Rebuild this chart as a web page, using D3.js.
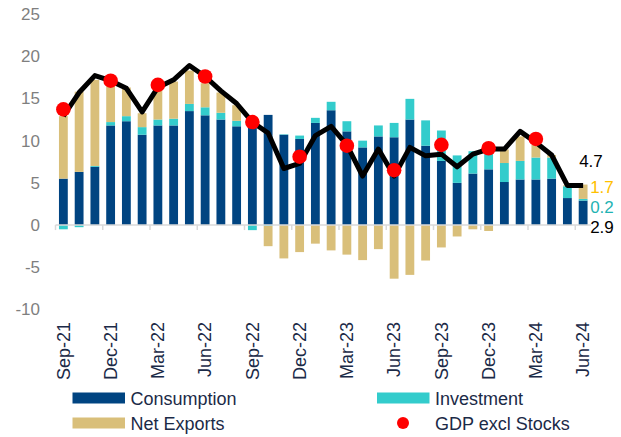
<!DOCTYPE html>
<html>
<head>
<meta charset="utf-8">
<script src="https://cdn.jsdelivr.net/npm/d3@7"></script>
<style>
  body { margin: 0; background: #fff; }
  text { font-family: "Liberation Sans", Arial, sans-serif; }
  .axis-y text { fill: #7f7f7f; font-size: 17px; }
  .axis-x text { fill: #1b2a47; font-size: 18px; }
  .legend text { fill: #1b2a47; font-size: 18px; }
</style>
</head>
<body>
<svg id="chart" width="621" height="437"></svg>
<script>
var months = ['Sep-21','Oct-21','Nov-21','Dec-21','Jan-22','Feb-22','Mar-22','Apr-22','May-22','Jun-22',
              'Jul-22','Aug-22','Sep-22','Oct-22','Nov-22','Dec-22','Jan-23','Feb-23','Mar-23','Apr-23',
              'May-23','Jun-23','Jul-23','Aug-23','Sep-23','Oct-23','Nov-23','Dec-23','Jan-24','Feb-24',
              'Mar-24','Apr-24','May-24','Jun-24'];

var tickMonths = ['Sep-21','Dec-21','Mar-22','Jun-22','Sep-22','Dec-22','Mar-23','Jun-23','Sep-23','Dec-23','Mar-24','Jun-24'];
var yTicks = [-10, -5, 0, 5, 10, 15, 20, 25];

var consumption = [5.5, 6.3, 6.9, 11.8, 12.3, 10.7, 11.8, 11.8, 13.5, 13.0, 12.5, 11.7, 11.8, 13.05, 10.7, 10.2, 12.1,
                   13.6, 11.1, 9.2, 10.5, 10.4, 12.5, 9.4, 7.6, 5.0, 6.1, 6.6, 5.1, 5.4, 5.4, 5.5, 3.2, 2.9];
var investment  = [-0.5, -0.25, 0.1, 0.4, 0.6, 0.9, 0.7, 0.8, 0.85, 0.95, 0.8, 0.65, -0.6, -0.1, 0.05, 0.4, 0.6,
                   1.0, 1.2, 0.8, 1.3, 1.7, 2.45, 3.0, 3.6, 3.25, 2.65, 2.0, 2.25, 2.2, 2.6, 2.5, 1.4, 0.2];
var netExports  = [7.4, 9.5, 10.2, 4.4, 3.4, 1.65, 3.7, 4.4, 3.95, 2.85, 2.4, 1.85, 0, -2.4, -3.95, -3.2, -2.2,
                   -3.0, -3.5, -4.15, -2.85, -6.35, -5.9, -4.2, -2.65, -1.35, -0.5, -0.7, 1.6, 2.9, 1.5, 0.3, 0.1, 1.7];

// black line (monthly)
var gdpLine = [12.9, 15.7, 17.7, 17.1, 16.2, 13.4, 16.3, 17.2, 18.9, 17.6, 15.9, 14.4, 12.2, 10.9, 6.7, 7.3, 10.6,
               11.7, 9.5, 5.8, 9.0, 5.8, 9.2, 8.2, 8.4, 6.9, 8.4, 9.0, 9.0, 11.1, 9.8, 8.3, 4.7, 4.7];

// red dots (quarterly)
var gdpExclStocksMonths = ['Sep-21','Dec-21','Mar-22','Jun-22','Sep-22','Dec-22','Mar-23','Jun-23','Sep-23','Dec-23','Mar-24'];
var gdpExclStocks = [13.7, 17.1, 16.6, 17.6, 12.2, 8.1, 9.4, 6.5, 9.5, 9.1, 10.2];

var endLabels = [{text:'4.7', value:4.7, color:'#000000'},
                 {text:'1.7', value:1.7, color:'#ffc000'},
                 {text:'0.2', value:0.2, color:'#1fb3b3'},
                 {text:'2.9', value:2.9, color:'#000000'}];

var keys = ['consumption','investment','netExports'];
var colors = {consumption:'#004481', investment:'#33cccc', netExports:'#d9bf7a'};

var rows = months.map(function(m, i){
  return {month:m, consumption:consumption[i], investment:investment[i], netExports:netExports[i]};
});

var svg = d3.select("#chart");

var xScale = d3.scaleBand()
    .domain(months)
    .range([55.5, 591])
    .paddingInner(0.44)
    .paddingOuter(0.22);

var yScale = d3.scaleLinear()
    .domain([-10, 25])
    .range([309.5, 14]);

var series = d3.stack()
    .keys(keys)
    .offset(d3.stackOffsetDiverging)(rows);

// bars
var layers = svg.append("g").attr("class", "bars")
  .selectAll("g")
  .data(series).enter()
  .append("g")
    .attr("fill", function(d){ return colors[d.key]; });

layers.selectAll("rect")
  .data(function(d){ return d; }).enter()
  .append("rect")
    .attr("x", function(d){ return xScale(d.data.month); })
    .attr("width", xScale.bandwidth())
    .attr("y", function(d){ return yScale(Math.max(d[0], d[1])); })
    .attr("height", function(d){ return Math.abs(yScale(d[0]) - yScale(d[1])); });

// zero axis with ticks every quarter
var step = xScale.step();
svg.append("line")
  .attr("x1", 55.5).attr("x2", 591)
  .attr("y1", yScale(0)).attr("y2", yScale(0))
  .attr("stroke", "#d9d9d9").attr("stroke-width", 1.5);

svg.append("g")
  .selectAll("line")
  .data(tickMonths).enter()
  .append("line")
    .attr("x1", function(d){ return xScale(d) + xScale.bandwidth() / 2 - step / 2; })
    .attr("x2", function(d){ return xScale(d) + xScale.bandwidth() / 2 - step / 2; })
    .attr("y1", yScale(0)).attr("y2", yScale(0) + 5)
    .attr("stroke", "#d9d9d9").attr("stroke-width", 1.5);

// y axis labels (plain hyphen for negatives)
var yAxis = d3.axisLeft(yScale)
  .tickValues(yTicks)
  .tickFormat(function(d){ return String(d); })
  .tickSize(0)
  .tickPadding(0);
svg.append("g")
  .attr("class", "axis axis-y")
  .attr("transform", "translate(40,0)")
  .call(yAxis)
  .call(function(g){ g.select(".domain").remove(); });

// x labels, rotated
svg.append("g")
  .attr("class", "axis axis-x")
  .selectAll("text")
  .data(tickMonths).enter()
  .append("text")
    .attr("transform", function(d){
      return "translate(" + (xScale(d) + xScale.bandwidth() / 2) + ",322) rotate(-90)";
    })
    .attr("dy", "0.35em")
    .attr("text-anchor", "end")
    .text(function(d){ return d; });

// black line
var line = d3.line()
  .x(function(d, i){ return xScale(months[i]) + xScale.bandwidth() / 2; })
  .y(function(d){ return yScale(d); });

svg.append("path")
  .datum(gdpLine)
  .attr("fill", "none")
  .attr("stroke", "#000")
  .attr("stroke-width", 5)
  .attr("stroke-linejoin", "round")
  .attr("d", line);

// red dots
svg.append("g")
  .selectAll("circle")
  .data(gdpExclStocks).enter()
  .append("circle")
    .attr("cx", function(d, i){ return xScale(gdpExclStocksMonths[i]) + xScale.bandwidth() / 2; })
    .attr("cy", function(d){ return yScale(d); })
    .attr("r", 7.3)
    .attr("fill", "#ff0000");

// end labels
var lastX = xScale(months[months.length - 1]) + xScale.bandwidth() / 2;
var labelY = [166.7, 192.7, 212.7, 233.3];
svg.append("g")
  .selectAll("text")
  .data(endLabels).enter()
  .append("text")
    .attr("x", function(d, i){ return i == 0 ? lastX - 4 : lastX + 7; })
    .attr("y", function(d, i){ return labelY[i]; })
    .attr("fill", function(d){ return d.color; })
    .style("font-size", "17px")
    .text(function(d){ return d.text; });

// legend
var legendItems = [{name:'Consumption', key:'consumption', x:72.5, y:398},
                   {name:'Investment', key:'investment', x:377, y:398},
                   {name:'Net Exports', key:'netExports', x:72.5, y:423},
                   {name:'GDP excl Stocks', key:'dot', x:377, y:423}];

var legend = svg.append("g").attr("class", "legend")
  .selectAll("g")
  .data(legendItems).enter()
  .append("g")
    .attr("transform", function(d){ return "translate(" + d.x + "," + d.y + ")"; });

legend.filter(function(d){ return d.key != 'dot'; })
  .append("rect")
    .attr("x", 0).attr("y", -5.5)
    .attr("width", 52.5).attr("height", 11)
    .attr("fill", function(d){ return colors[d.key]; });

legend.filter(function(d){ return d.key == 'dot'; })
  .append("circle")
    .attr("cx", 26).attr("cy", 0).attr("r", 6)
    .attr("fill", "#ff0000");

legend.append("text")
  .attr("x", 58)
  .attr("y", 6.5)
  .text(function(d){ return d.name; });
</script>
</body>
</html>
